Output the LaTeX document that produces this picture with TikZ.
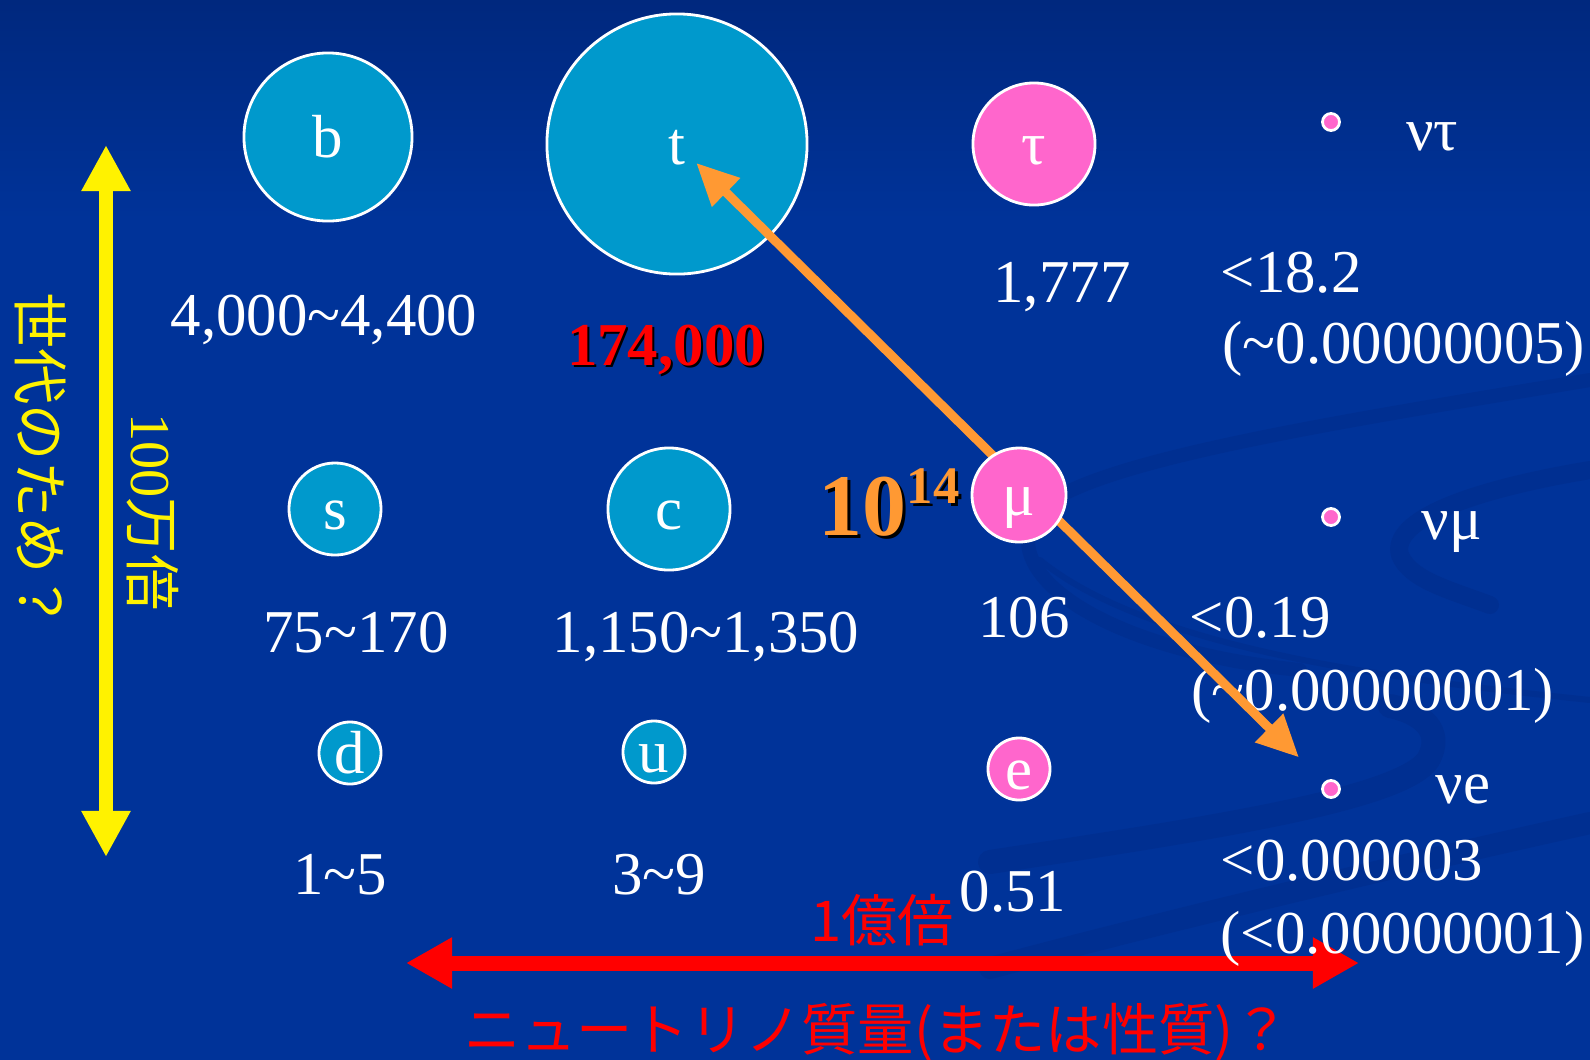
\documentclass[tikz,border=0pt]{standalone}
\usepackage{fontspec}
\setmainfont{Liberation Serif}
\newfontfamily\cjk{Noto Sans CJK JP}
\usepackage{tikz}
\usetikzlibrary{positioning, arrows.meta}
\definecolor{slideblue}{HTML}{003399}
\definecolor{slidetop}{HTML}{00287E}
\definecolor{swirlblue}{HTML}{002F91}
\definecolor{quarkblue}{HTML}{0099CC}
\definecolor{leptonpink}{HTML}{FF66CC}
\definecolor{gaporange}{HTML}{FF9933}
\newcommand{\tld}{\textasciitilde}
\newcommand{\massfont}{\fontsize{17.3}{21}\selectfont}
\newcommand{\jpfont}{\cjk\fontsize{16}{19}\selectfont}
\newcommand{\gapfont}{\fontsize{25}{28}\selectfont\bfseries}
\newcommand{\gaptext}{10\raisebox{9pt}{\fontsize{15}{15}\selectfont 14}}

\tikzset{
  quark/.style={circle, fill=quarkblue, draw=white, line width=0.8pt,
    inner sep=0pt, text=white, font=\massfont, text height=11.4pt, text depth=0pt},
  lepton/.style={circle, fill=leptonpink, draw=white, line width=0.8pt,
    inner sep=0pt, text=white, font=\massfont, text height=11.4pt, text depth=0pt},
  nudot/.style={circle, fill=leptonpink, draw=white, line width=0.8pt,
    inner sep=0pt, minimum size=0.17cm},
  mass/.style={text=white, font=\massfont, inner sep=0pt, anchor=base},
  numass/.style={mass, anchor=base west},
  swirl/.style={draw=swirlblue, line cap=round},
}

\begin{document}
\begin{tikzpicture}[x=0.01cm, y=-0.01cm]
  \useasboundingbox (0,0) rectangle (1590,1060);
  % background
  \fill[slideblue] (0,0) rectangle (1590,1060);
  \shade[top color=slidetop, bottom color=slideblue] (0,0) rectangle (1590,220);
  \draw[swirl, line width=0.14cm] (1590,380) .. controls (1350,420) and (1090,460) .. (1040,510)
    .. controls (990,570) and (1100,650) .. (1300,670);
  \draw[swirl, line width=0.06cm] (1040,560) .. controls (1150,650) and (1400,680) .. (1590,700);
  \draw[swirl, line width=0.18cm] (1590,470) .. controls (1470,490) and (1390,520) .. (1400,555)
    .. controls (1410,580) and (1450,590) .. (1490,605);
  \draw[swirl, line width=0.24cm] (990,862) .. controls (1200,830) and (1400,800) .. (1428,760)
    .. controls (1445,730) and (1420,712) .. (1390,706);
  \draw[swirl, line width=0.22cm] (990,968) .. controls (1150,925) and (1400,865) .. (1590,823);

  % arrows
  \coordinate (gentop) at (106,145);
  \coordinate (genbot) at (106,857);
  \draw[yellow, line width=0.14cm, {Triangle[length=0.46cm, width=0.46cm]}-{Triangle[length=0.46cm, width=0.46cm]}]
    (gentop) -- (genbot);
  \coordinate (nuleft) at (406,963);
  \coordinate (nuright) at (1359,963);
  \draw[red, line width=0.15cm, {Triangle[length=0.46cm, width=0.48cm]}-{Triangle[length=0.46cm, width=0.48cm]}]
    (nuleft) -- (nuright);

  % labels
  \node[rotate=-90, text=yellow, font=\jpfont] (genwhy) at (41,461) {世代のため？};
  \node[rotate=-90, text=yellow, font=\fontsize{16}{19}\selectfont] (genfactor) at (153,512) {100{\cjk 万倍}};
  \node[red, font=\jpfont, anchor=base] (nufactor) at (882,941) {1{\cjk 億倍}};
  \node[red, font=\cjk\fontsize{16}{19}\selectfont] (nuwhy) at (877,1032) {ニュートリノ質量(または性質)？};

  \node[mass] (mb) at (324,335) {4,000\tld4,400};
  \node[mass, text=black, font=\massfont\bfseries] (mtshadow) at (668,367) {174,000};
  \node[mass, text=red, font=\massfont\bfseries] (mt) at (666,365) {174,000};
  \node[mass] (mtau) at (1062,302) {1,777};
  \node[numass] (mnutau) at (1220,292) {<18.2};
  \node[numass] (mnutaub) at (1222,363) {(\tld0.00000005)};

  \node[mass] (ms) at (356,652) {75\tld170};
  \node[mass] (mc) at (706,652) {1,150\tld1,350};
  \node[mass] (mmu) at (1024,637) {106};
  \node[numass] (mnumu) at (1189,637) {<0.19};
  \node[numass] (mnumub) at (1191,710) {(\tld0.00000001)};

  \node[mass] (md) at (340,894) {1\tld5};
  \node[mass] (mu) at (659,894) {3\tld9};
  \node[mass] (me) at (1013,911) {0.51};
  \node[numass] (mnue) at (1220,880) {<0.000003};
  \node[numass] (mnueb) at (1220,953) {(<0.00000001)};

  \node[anchor=base west, inner sep=0pt, text=black, font=\gapfont] (gapshadow) at (821,538) {\gaptext};
  \node[anchor=base west, inner sep=0pt, text=gaporange, font=\gapfont] (gap) at (818,535) {\gaptext};

  % particles
  \node[quark, minimum size=1.68cm] (b) at (328,137) {b};
  \node[quark, minimum size=2.60cm] (t) at (677,144) {t};
  \node[lepton, minimum size=1.22cm] (tau) at (1034,144) {τ};
  \node[nudot] (nutau) at (1331,122) {};
  \node[mass, anchor=center] (lnutau) at (1432,137) {ντ};

  \node[quark, minimum size=0.92cm] (s) at (335,509) {s};
  \node[quark, minimum size=1.22cm] (c) at (669,509) {c};
  \node[nudot] (numu) at (1331,517) {};
  \node[mass, anchor=center] (lnumu) at (1452,532) {νμ};

  \node[quark, minimum size=0.62cm] (d) at (350,753) {d};
  \node[quark, minimum size=0.62cm] (u) at (654,752) {u};
  \node[lepton, minimum size=0.62cm] (e) at (1019,769) {e};
  \node[nudot] (nue) at (1331,789) {};
  \node[mass, anchor=center] (lnue) at (1463,789) {νe};

  \draw[gaporange, line width=0.09cm, {Triangle[length=0.42cm, width=0.38cm]}-{Triangle[length=0.42cm, width=0.38cm]},
    shorten <=0.27cm, shorten >=0.45cm] (t.center) -- (nue.center);
  \node[lepton, minimum size=0.94cm] (mu) at (1019,495) {μ};
\end{tikzpicture}
\end{document}
